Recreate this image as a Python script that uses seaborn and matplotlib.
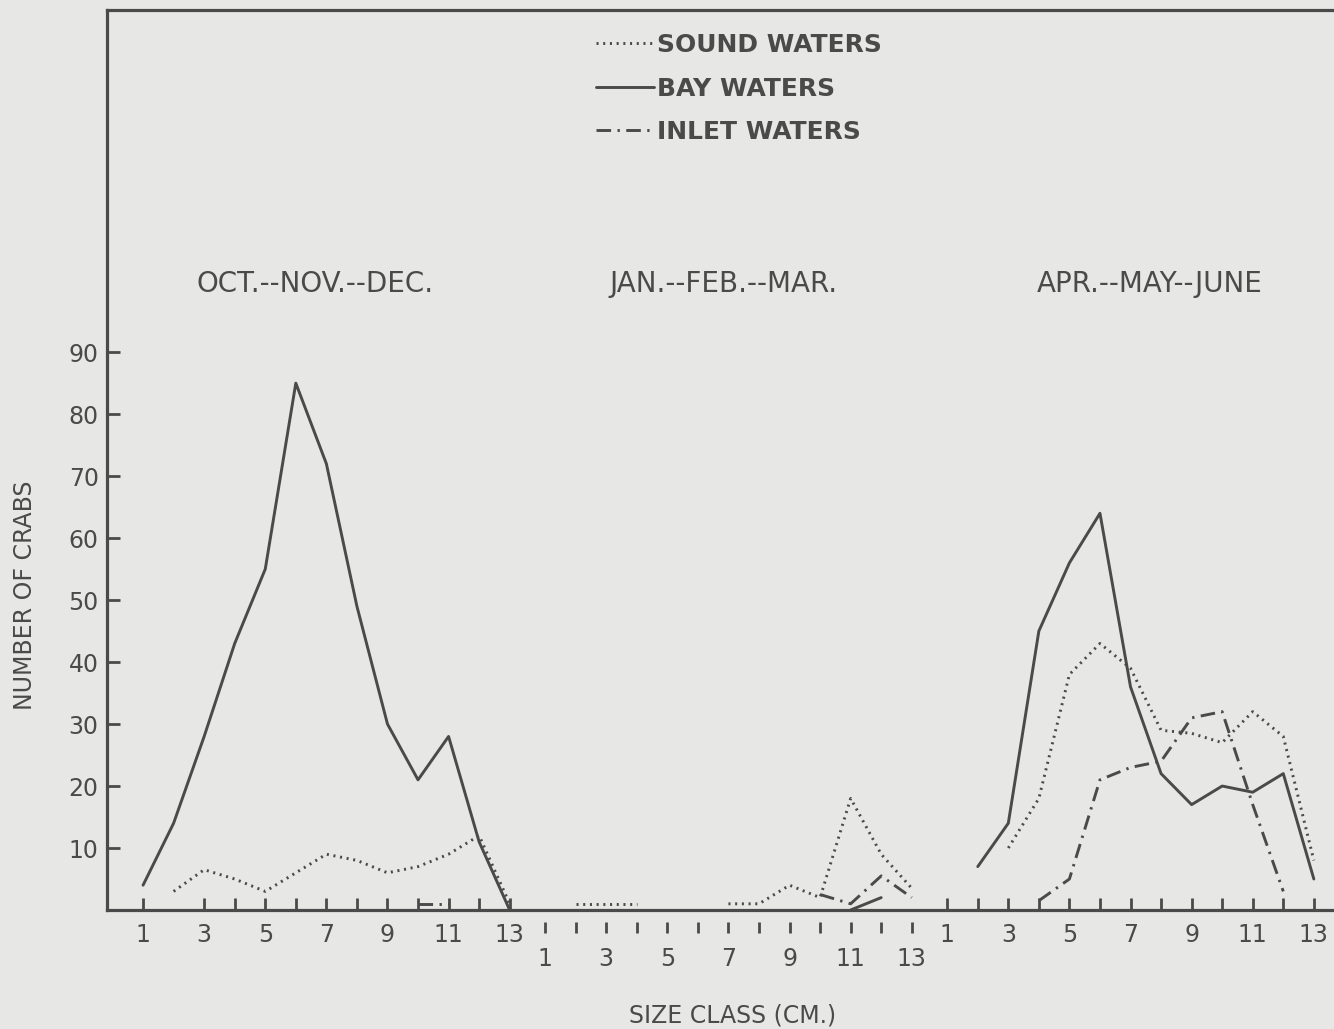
import numpy as np
import pandas as pd
import seaborn as sns
import matplotlib.pyplot as plt

nan = np.nan

sizes = list(range(1, 14))
seasons = ["OCT.--NOV.--DEC.", "JAN.--FEB.--MAR.", "APR.--MAY--JUNE"]
waters = ["SOUND WATERS", "BAY WATERS", "INLET WATERS"]

# number of crabs per size class 1..13 (nan = no line drawn)
sound_fall = [nan, 3, 6.5, 5, 3, 6, 9, 8, 6, 7, 9, 12, 1]
bay_fall = [4, 14, 28, 43, 55, 85, 72, 49, 30, 21, 28, 11, 0]
inlet_fall = [nan, nan, nan, nan, nan, nan, nan, nan, nan, 1, 1, nan, nan]

sound_winter = [nan, 1, 1, 1, nan, nan, 1, 1, 4, 2, 18, 9, 3.5]
bay_winter = [nan, nan, nan, nan, nan, nan, nan, nan, nan, nan, 0, 2, nan]
inlet_winter = [nan, nan, nan, nan, nan, nan, nan, nan, nan, 2.5, 1, 5.5, 2]

sound_spring = [nan, nan, 10, 18, 38, 43, 39, 29, 28.5, 27, 32, 28, 8]
bay_spring = [nan, 7, 14, 45, 56, 64, 36, 22, 17, 20, 19, 22, 5]
inlet_spring = [nan, nan, nan, 1.5, 5, 21, 23, 24, 31, 32, 17, 3, nan]

series = {
    seasons[0]: [sound_fall, bay_fall, inlet_fall],
    seasons[1]: [sound_winter, bay_winter, inlet_winter],
    seasons[2]: [sound_spring, bay_spring, inlet_spring],
}

# each season block sits further along one shared x axis
offsets = [0, 13.16, 26.32]

rows = []
for s, season in enumerate(seasons):
    for w, water in enumerate(waters):
        seg = 0
        for size, v in zip(sizes, series[season][w]):
            if np.isnan(v):
                seg += 1
                continue
            rows.append({"season": season, "water": water, "size": size,
                         "x": size + offsets[s], "count": v,
                         "unit": f"{s}-{w}-{seg}"})
data = pd.DataFrame(rows)

ink = "#4a4a4a"
bg = "#e7e7e5"

sns.set_style("white")
plt.rcParams["font.family"] = ["DejaVu Sans"]

fig = plt.figure(figsize=(13.34, 10.29), dpi=100, facecolor=bg)
ax = fig.add_axes([107 / 1334, 119 / 1029, 1227 / 1334, 900 / 1029])
ax.set_facecolor(bg)

sns.lineplot(data=data, x="x", y="count", hue="water", style="water",
             units="unit", estimator=None, sort=False, ax=ax,
             palette={w: ink for w in waters},
             dashes={"SOUND WATERS": (0.7, 1.6), "BAY WATERS": "",
                     "INLET WATERS": (5, 2.2, 0.8, 2.2)},
             linewidth=2.1)

ax.set_xlim(-0.18, 39.98)
ax.set_ylim(0, 145.2)

for side in ["top", "left", "bottom"]:
    ax.spines[side].set_color(ink)
    ax.spines[side].set_linewidth(2.3)
ax.spines["right"].set_visible(False)

# fall and spring ticks sit on the axis
main_ticks = [s for s in sizes if s != 2] + [s + offsets[2] for s in sizes]
main_labels = [str(s) if s % 2 else "" for s in sizes if s != 2] + \
              [str(s) if s % 2 else "" for s in sizes]
ax.set_xticks(main_ticks, main_labels)
ax.set_yticks(np.arange(10, 100, 10))
ax.tick_params(axis="both", direction="in", length=9, width=2, colors=ink,
               labelsize=17, pad=9, bottom=True, left=True)
ax.tick_params(axis="y", pad=6)
ax.set_xlabel("")
ax.set_ylabel("")

# winter ticks hang below the axis
sec = ax.secondary_xaxis(-0.0133)
sec.spines["bottom"].set_visible(False)
sec.set_xticks([s + offsets[1] for s in sizes],
               [str(s) if s % 2 else "" for s in sizes])
sec.tick_params(direction="out", length=8, width=2, colors=ink,
                labelsize=17, pad=10, bottom=True)

title_x = [6.63, 20.0, 33.96]
for tx, season in zip(title_x, seasons):
    ax.text(tx, 101, season, ha="center", va="center", fontsize=20,
            color=ink)

fig.text(25 / 1334, 1 - 595 / 1029, "NUMBER OF CRABS", rotation=90,
         ha="center", va="center", fontsize=17, color=ink)
fig.text(733 / 1334, 1 - 1015 / 1029, "SIZE CLASS (CM.)",
         ha="center", va="center", fontsize=17, color=ink)

sns.move_legend(ax, "upper left", bbox_to_anchor=(596 / 1334, 1 - 33 / 1029),
                bbox_transform=fig.transFigure, frameon=False, title=None,
                prop={"size": 18, "weight": "bold"}, handlelength=2.3,
                handletextpad=0.15, labelspacing=0.78, borderpad=0,
                borderaxespad=0)
for t in ax.get_legend().get_texts():
    t.set_color(ink)

fig.savefig("out.png", dpi=100, facecolor=bg)
